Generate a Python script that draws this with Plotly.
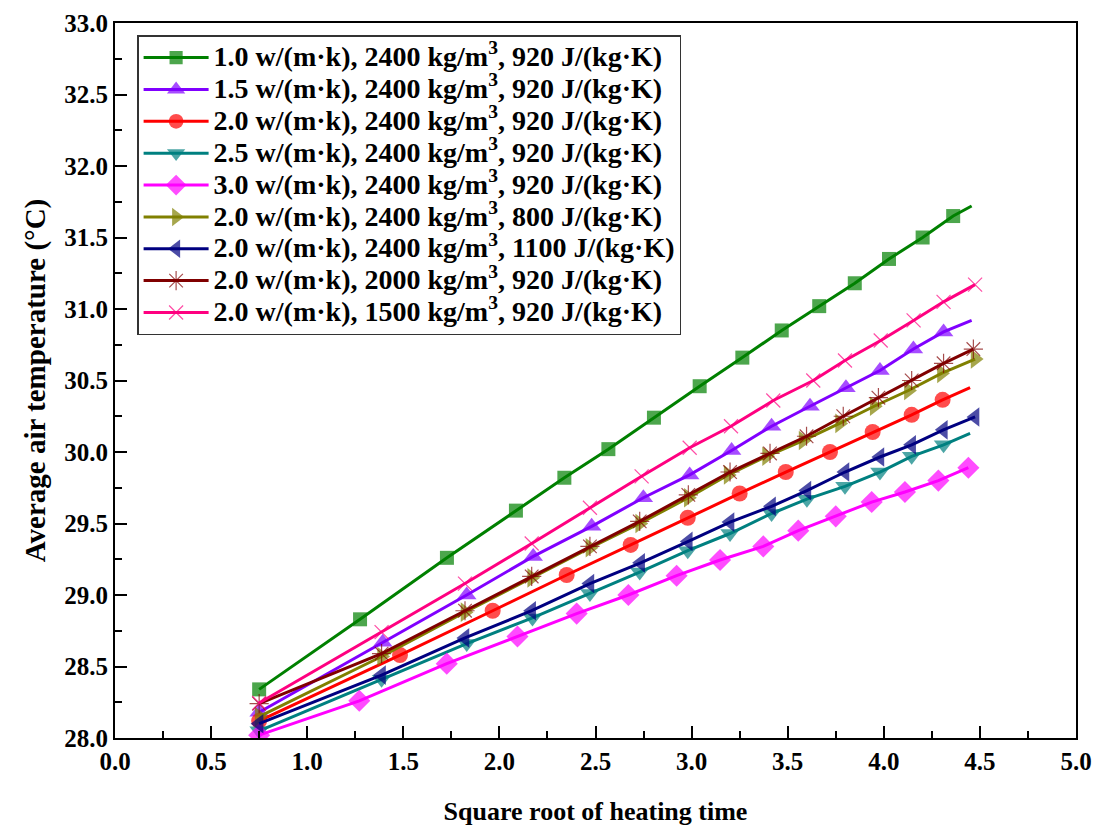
import plotly.graph_objects as go

# ---------------- data ----------------
labels = [
    "1.0 w/(m·k), 2400 kg/m<sup>3</sup>, 920 J/(kg·K)",
    "1.5 w/(m·k), 2400 kg/m<sup>3</sup>, 920 J/(kg·K)",
    "2.0 w/(m·k), 2400 kg/m<sup>3</sup>, 920 J/(kg·K)",
    "2.5 w/(m·k), 2400 kg/m<sup>3</sup>, 920 J/(kg·K)",
    "3.0 w/(m·k), 2400 kg/m<sup>3</sup>, 920 J/(kg·K)",
    "2.0 w/(m·k), 2400 kg/m<sup>3</sup>, 800 J/(kg·K)",
    "2.0 w/(m·k), 2400 kg/m<sup>3</sup>, 1100 J/(kg·K)",
    "2.0 w/(m·k), 2000 kg/m<sup>3</sup>, 920 J/(kg·K)",
    "2.0 w/(m·k), 1500 kg/m<sup>3</sup>, 920 J/(kg·K)",
]

x_k10 = [0.75, 1.275, 1.727, 2.086, 2.338, 2.567, 2.804, 3.042, 3.264, 3.469,
         3.664, 3.849, 4.027, 4.202, 4.361, 4.457]
y_k10 = [28.34, 28.83, 29.26, 29.59, 29.82, 30.02, 30.24, 30.46, 30.66, 30.85,
         31.02, 31.18, 31.35, 31.50, 31.65, 31.72]

x_k15 = [0.75, 1.393, 1.83, 2.176, 2.48, 2.749, 2.99, 3.208, 3.416, 3.616,
         3.803, 3.98, 4.154, 4.311, 4.457]
y_k15 = [28.18, 28.67, 29.00, 29.27, 29.48, 29.68, 29.84, 30.01, 30.18, 30.32,
         30.45, 30.57, 30.72, 30.84, 30.92]

x_k20 = [0.75, 1.483, 1.965, 2.35, 2.683, 2.98, 3.25, 3.49, 3.72, 3.942,
         4.145, 4.306, 4.449]
y_k20 = [28.12, 28.58, 28.89, 29.14, 29.35, 29.54, 29.71, 29.86, 30.00, 30.14,
         30.26, 30.365, 30.45]

x_k25 = [0.75, 1.387, 1.83, 2.172, 2.471, 2.73, 2.98, 3.2, 3.416, 3.6,
         3.798, 3.98, 4.145, 4.311, 4.449]
y_k25 = [28.05, 28.41, 28.66, 28.84, 29.01, 29.16, 29.31, 29.43, 29.57, 29.67,
         29.76, 29.86, 29.97, 30.05, 30.13]

x_k30 = [0.75, 1.271, 1.726, 2.094, 2.402, 2.671, 2.922, 3.148, 3.373, 3.555,
         3.75, 3.937, 4.11, 4.284, 4.44]
y_k30 = [28.02, 28.26, 28.52, 28.71, 28.87, 29.00, 29.135, 29.245, 29.34, 29.45,
         29.55, 29.65, 29.72, 29.80, 29.89]

x_c800 = [0.75, 1.387, 1.821, 2.168, 2.471, 2.73, 2.983, 3.19, 3.39, 3.58,
          3.77, 3.95, 4.128, 4.30, 4.475]
y_c800 = [28.15, 28.57, 28.88, 29.12, 29.33, 29.50, 29.68, 29.84, 29.97, 30.08,
          30.20, 30.32, 30.43, 30.55, 30.65]

x_c1100 = [0.75, 1.387, 1.821, 2.168, 2.471, 2.735, 2.983, 3.2, 3.416, 3.6,
           3.798, 3.98, 4.145, 4.31, 4.475]
y_c1100 = [28.10, 28.44, 28.70, 28.89, 29.08, 29.225, 29.375, 29.51, 29.62, 29.73,
           29.86, 29.965, 30.05, 30.155, 30.245]

x_r2000 = [0.75, 1.387, 1.821, 2.168, 2.471, 2.73, 2.983, 3.2, 3.408, 3.598,
           3.789, 3.972, 4.145, 4.311, 4.466]
y_r2000 = [28.24, 28.59, 28.89, 29.13, 29.34, 29.515, 29.70, 29.86, 29.99, 30.11,
           30.25, 30.38, 30.50, 30.62, 30.72]

x_r1500 = [0.75, 1.387, 1.821, 2.168, 2.471, 2.74, 2.99, 3.205, 3.425, 3.633,
           3.798, 3.984, 4.155, 4.311, 4.475]
y_r1500 = [28.245, 28.74, 29.08, 29.36, 29.61, 29.83, 30.03, 30.18, 30.36, 30.50,
           30.64, 30.78, 30.92, 31.05, 31.17]

x_ticks = [0.0, 0.5, 1.0, 1.5, 2.0, 2.5, 3.0, 3.5, 4.0, 4.5, 5.0]
y_ticks = [28.0, 28.5, 29.0, 29.5, 30.0, 30.5, 31.0, 31.5, 32.0, 32.5, 33.0]

# ---------------- styles ----------------
series = [
    (x_k10, y_k10, "#008000", "square", 14, True),
    (x_k15, y_k15, "#8000FF", "triangle-up", 17, True),
    (x_k20, y_k20, "#FF0000", "circle", 16, True),
    (x_k25, y_k25, "#008080", "triangle-down", 17, True),
    (x_k30, y_k30, "#FF00FF", "diamond", 17, False),
    (x_c800, y_c800, "#808000", "triangle-right", 17, False),
    (x_c1100, y_c1100, "#000080", "triangle-left", 17, False),
    (x_r2000, y_r2000, "#800000", "asterisk-open", 16, False),
    (x_r1500, y_r1500, "#FF0080", "x-thin-open", 14, False),
]

LEGEND_TEXT = '<span style="font-size:28px">{}</span>'

fig = go.Figure()
for (xs, ys, col, sym, ms, tail), name in zip(series, labels):
    sizes = [ms] * len(xs)
    if tail:
        sizes[-1] = 0
    open_sym = sym.endswith("open")
    fig.add_trace(go.Scatter(
        x=xs, y=ys, name=LEGEND_TEXT.format(name), mode="lines+markers",
        line=dict(color=col, width=3),
        marker=dict(symbol=sym, size=sizes, color=col,
                    line=dict(color=col, width=1.2 if open_sym else 0)),
    ))

font_family = "Liberation Serif, Times New Roman, serif"
axis_common = dict(
    showline=True, linecolor="black", linewidth=2, mirror=True,
    ticks="inside", ticklen=12, tickwidth=2, tickcolor="black",
    showgrid=False, zeroline=False, automargin=False,
    tickfont=dict(family=font_family, size=25, color="black", weight="bold"),
    tickformat=".1f",
)

fig.update_xaxes(
    range=[0, 5], tickvals=x_ticks,
    minor=dict(ticks="inside", ticklen=7, tickwidth=2, tickcolor="black", dtick=0.25),
    title=dict(text="Square root of heating time",
               font=dict(family=font_family, size=26, color="black", weight="bold"),
               standoff=28),
    **axis_common,
)
fig.update_yaxes(
    range=[28, 33], tickvals=y_ticks,
    minor=dict(ticks="inside", ticklen=7, tickwidth=2, tickcolor="black", dtick=0.25),
    title=dict(text="Average air temperature (°C)",
               font=dict(family=font_family, size=29, color="black", weight="bold"),
               standoff=10),
    **axis_common,
)

fig.update_layout(
    width=1099, height=829,
    margin=dict(l=115, r=23, t=23, b=91),
    plot_bgcolor="white", paper_bgcolor="white",
    showlegend=True,
    legend=dict(
        x=0.023, y=0.983, xanchor="left", yanchor="top",
        bgcolor="white", bordercolor="#333333", borderwidth=1.5,
        font=dict(family=font_family, size=22.2, color="black", weight="bold"),
        itemwidth=65, tracegroupgap=0,
    ),
)

fig.write_html("out.html")
